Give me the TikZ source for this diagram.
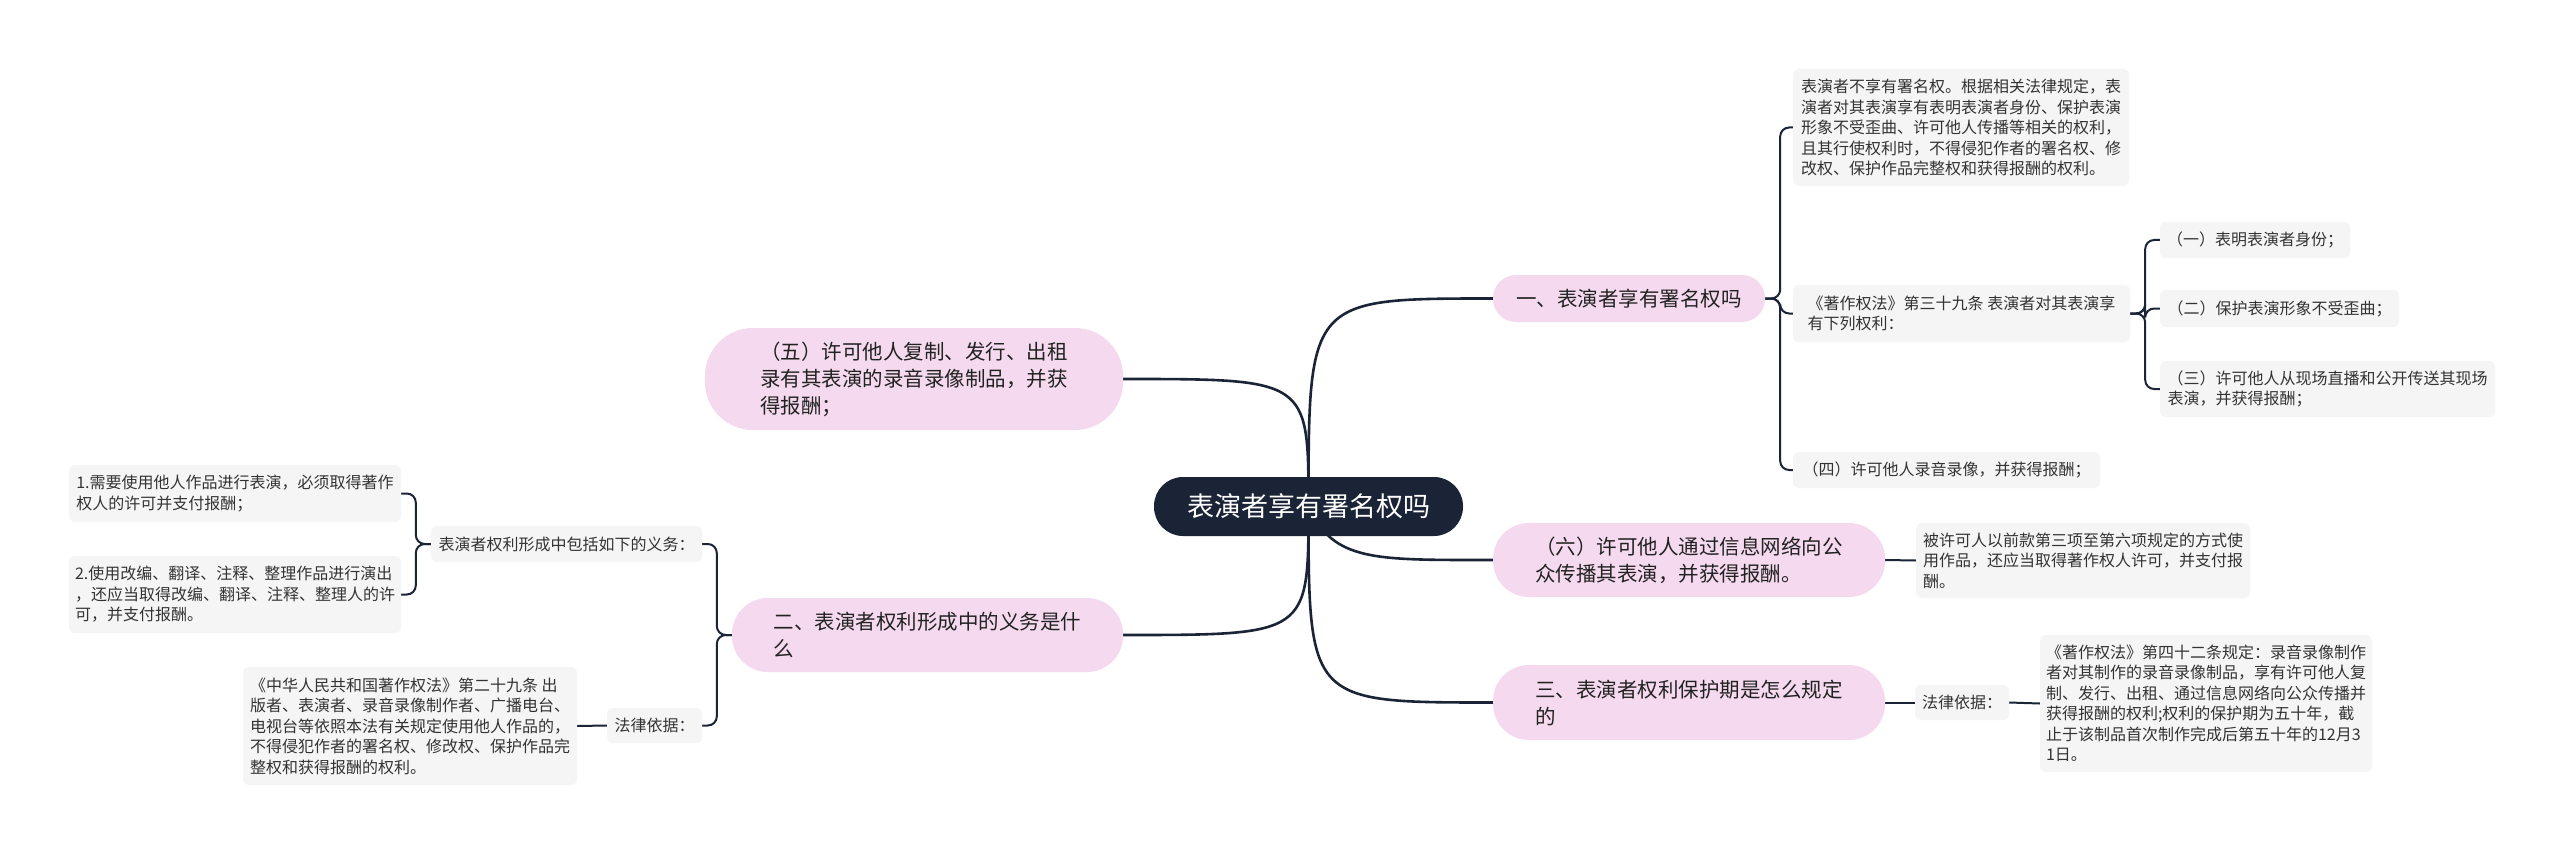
\documentclass[tikz,border=0pt]{standalone}
\usepackage{fontspec}
\setmainfont{Noto Sans CJK SC}
\usepackage{xcolor}
\usetikzlibrary{calc,backgrounds}

\definecolor{inkblue}{HTML}{1B2436}
\definecolor{pinkfill}{HTML}{F5DAEF}
\definecolor{leaffill}{HTML}{F5F5F5}
\definecolor{leaftext}{HTML}{333333}
\definecolor{pinktext}{HTML}{222222}

\begin{document}
\begin{tikzpicture}[x=1pt,y=-1pt,
  root/.style={fill=inkblue, text=white, font=\fontsize{27}{32}\selectfont,
    inner sep=0pt, minimum width=309pt, minimum height=59pt, rounded corners=29pt},
  branch/.style={fill=pinkfill, text=pinktext, font=\fontsize{20.5}{27}\selectfont,
    align=left, inner sep=0pt},
  leaf/.style={fill=leaffill, text=leaftext, font=\fontsize{16}{20.5}\selectfont,
    align=left, inner sep=0pt, rounded corners=6pt},
  stem/.style={draw=inkblue, line width=2.6pt},
  twig/.style={draw=inkblue, line width=2pt, rounded corners=9pt}]
\useasboundingbox (0,0) rectangle (2560,853);

\node[root] (root) at (1308.5,506.5) {表演者享有署名权吗};

% right side
\node[branch, minimum width=272pt, minimum height=47pt, rounded corners=23pt] (b1) at (1629,298.5) {一、表演者享有署名权吗};
\node[branch, minimum width=392pt, minimum height=74pt, rounded corners=36pt] (b6) at (1689,560) {（六）许可他人通过信息网络向公\\众传播其表演，并获得报酬。};
\node[branch, minimum width=392pt, minimum height=75pt, rounded corners=36pt] (b3) at (1689,702.5) {三、表演者权利保护期是怎么规定\\的};

\node[leaf, minimum width=336pt, minimum height=117pt] (l1a) at (1961,127.5) {表演者不享有署名权。根据相关法律规定，表\\演者对其表演享有表明表演者身份、保护表演\\形象不受歪曲、许可他人传播等相关的权利，\\且其行使权利时，不得侵犯作者的署名权、修\\改权、保护作品完整权和获得报酬的权利。};
\node[leaf, minimum width=337pt, minimum height=57pt] (l1b) at (1961.5,313.5) {《著作权法》第三十九条 表演者对其表演享\\有下列权利：};
\node[leaf, minimum width=307pt, minimum height=36pt] (l1d) at (1946.5,470) {（四）许可他人录音录像，并获得报酬；};

\node[leaf, minimum width=190pt, minimum height=36pt] (s1) at (2255,240) {（一）表明表演者身份；};
\node[leaf, minimum width=239pt, minimum height=37pt] (s2) at (2279.5,308.5) {（二）保护表演形象不受歪曲；};
\node[leaf, minimum width=335pt, minimum height=56pt] (s3) at (2327.5,389) {（三）许可他人从现场直播和公开传送其现场\\表演，并获得报酬；};

\node[leaf, minimum width=334pt, minimum height=75pt] (l6) at (2083,560.5) {被许可人以前款第三项至第六项规定的方式使\\用作品，还应当取得著作权人许可，并支付报\\酬。};

\node[leaf, minimum width=94pt, minimum height=35pt] (law3) at (1962,702.5) {法律依据：};
\node[leaf, minimum width=332pt, minimum height=137pt] (l3) at (2206,703.5) {《著作权法》第四十二条规定：录音录像制作\\者对其制作的录音录像制品，享有许可他人复\\制、发行、出租、通过信息网络向公众传播并\\获得报酬的权利;权利的保护期为五十年，截\\止于该制品首次制作完成后第五十年的12月3\\1日。};

% left side
\node[branch, minimum width=418pt, minimum height=102pt, rounded corners=48pt] (b5) at (914,379) {（五）许可他人复制、发行、出租\\录有其表演的录音录像制品，并获\\得报酬；};
\node[branch, minimum width=391pt, minimum height=74pt, rounded corners=36pt] (b2) at (927.5,635) {二、表演者权利形成中的义务是什\\么};

\node[leaf, minimum width=271pt, minimum height=36pt] (duty) at (566.5,544) {表演者权利形成中包括如下的义务：};
\node[leaf, minimum width=332pt, minimum height=57pt] (d1) at (235,493.5) {1.需要使用他人作品进行表演，必须取得著作\\权人的许可并支付报酬；};
\node[leaf, minimum width=332pt, minimum height=77pt] (d2) at (235,594.5) {2.使用改编、翻译、注释、整理作品进行演出\\，还应当取得改编、翻译、注释、整理人的许\\可，并支付报酬。};

\node[leaf, minimum width=95pt, minimum height=35pt] (law2) at (654.5,725.5) {法律依据：};
\node[leaf, minimum width=334pt, minimum height=118pt] (l2) at (410,726) {《中华人民共和国著作权法》第二十九条 出\\版者、表演者、录音录像制作者、广播电台、\\电视台等依照本法有关规定使用他人作品的，\\不得侵犯作者的署名权、修改权、保护作品完\\整权和获得报酬的权利。};

\begin{scope}[on background layer]
\fill[white] (0,0) rectangle (2560,853);
% main curves
\draw[stem] (root.center) .. controls (root.center |- b1.west) and (root.center |- b1.west) .. (b1.west);
\draw[stem] (root.center) .. controls ($(root.center)+(25,55)$) and ($(b6.west)+(-120,0)$) .. (b6.west);
\draw[stem] (root.center) .. controls (root.center |- b3.west) and (root.center |- b3.west) .. (b3.west);
\draw[stem] (root.center) .. controls (root.center |- b5.east) and (root.center |- b5.east) .. (b5.east);
\draw[stem] (root.center) .. controls (root.center |- b2.east) and (root.center |- b2.east) .. (b2.east);
% leaves
\draw[twig] (b1.east) -- ++(15,0) |- (l1a.west);
\draw[twig] (b1.east) -- ++(15,0) |- (l1b.west);
\draw[twig] (b1.east) -- ++(15,0) |- (l1d.west);
\draw[twig] (l1b.east) -- ++(15,0) |- (s1.west);
\draw[twig] (l1b.east) -- ++(15,0) |- (s2.west);
\draw[twig] (l1b.east) -- ++(15,0) |- (s3.west);
\draw[twig] (b6.east) -- (l6.west);
\draw[twig] (b3.east) -- (law3.west);
\draw[twig] (law3.east) -- (l3.west);
\draw[twig] (b2.west) -- ++(-15,0) |- (duty.east);
\draw[twig] (b2.west) -- ++(-15,0) |- (law2.east);
\draw[twig] (duty.west) -- ++(-15,0) |- (d1.east);
\draw[twig] (duty.west) -- ++(-15,0) |- (d2.east);
\draw[twig] (law2.west) -- (l2.east);
\end{scope}
\end{tikzpicture}
\end{document}
